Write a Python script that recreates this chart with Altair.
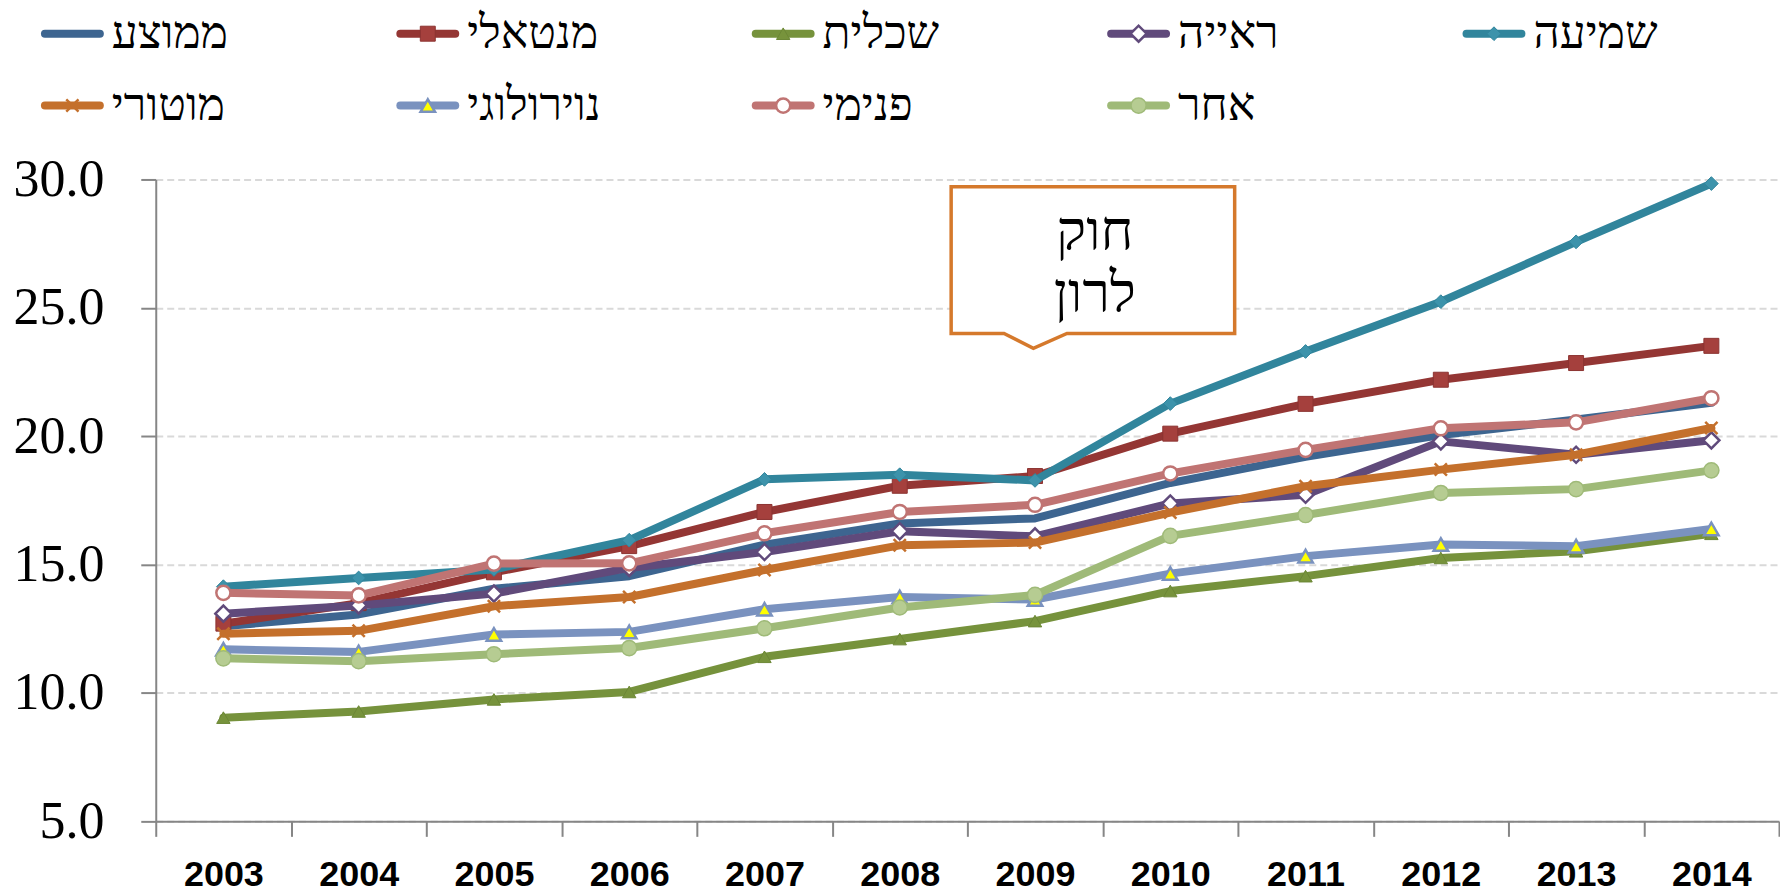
import altair as alt
import pandas as pd

# ---------------- data ----------------
years = list(range(2003, 2015))
series_names = ["ממוצע", "מנטאלי", "שכלית", "ראייה", "שמיעה",
                "מוטורי", "נוירולוגי", "פנימי", "אחר"]

avg_vals     = [12.60, 13.06, 14.06, 14.55, 15.78, 16.60, 16.80, 18.18, 19.20, 20.05, 20.65, 21.30]
mental_vals  = [12.70, 13.50, 14.70, 15.72, 17.05, 18.07, 18.45, 20.10, 21.26, 22.20, 22.85, 23.52]
intel_vals   = [9.04, 9.28, 9.75, 10.04, 11.41, 12.10, 12.80, 13.97, 14.55, 15.26, 15.52, 16.20]
vision_vals  = [13.09, 13.41, 13.87, 14.87, 15.49, 16.30, 16.10, 17.38, 17.72, 19.80, 19.28, 19.84]
hearing_vals = [14.14, 14.48, 14.81, 15.95, 18.32, 18.50, 18.28, 21.27, 23.30, 25.24, 27.57, 29.84]
motor_vals   = [12.31, 12.42, 13.38, 13.74, 14.79, 15.75, 15.86, 17.03, 18.05, 18.70, 19.28, 20.32]
neuro_vals   = [11.70, 11.60, 12.28, 12.38, 13.26, 13.74, 13.64, 14.65, 15.33, 15.78, 15.72, 16.39]
inner_vals   = [13.90, 13.80, 15.04, 15.05, 16.22, 17.05, 17.33, 18.55, 19.47, 20.31, 20.54, 21.48]
other_vals   = [11.35, 11.24, 11.51, 11.75, 12.52, 13.33, 13.82, 16.12, 16.93, 17.79, 17.94, 18.67]

all_values = [avg_vals, mental_vals, intel_vals, vision_vals, hearing_vals,
              motor_vals, neuro_vals, inner_vals, other_vals]

y_ticks = [5, 10, 15, 20, 25, 30]

callout_year = [2009]
callout_value = [26.57]
callout_text_value = [27.9]
callout_lines = ["חוק", "לרון"]

# ---------------- styles ----------------
line_colors = ["#3d6590", "#943634", "#76923c", "#604a7b", "#31859c",
               "#c4702c", "#7a92bf", "#c07473", "#9fba78"]
x_path = "M-1,-1L1,1M-1,1L1,-1"
marker_shapes = [None, "square", "triangle-up", "diamond", "diamond",
                 x_path, "triangle-up", "circle", "circle"]
marker_fills = ["#3d6590", "#a5403d", "#77933c", "#ffffff", "#3d93ab",
                "transparent", "#ffff00", "#ffffff", "#b6cc92"]
marker_strokes = ["#3d6590", "#8c3331", "#6b8735", "#604a7b", "#31859c",
                  "#c4702c", "#7a92bf", "#c07473", "#9fba78"]
marker_sizes = [0, 225, 180, 260, 190, 150, 210, 200, 230]
marker_sw = [1, 1, 1, 2.5, 1, 2.5, 2.5, 2.5, 1.5]

rows = []
for i, name in enumerate(series_names):
    for yr, v in zip(years, all_values[i]):
        rows.append({"series": name, "order": i, "year": yr, "value": v})
df = pd.DataFrame(rows)

legend_df = pd.DataFrame({
    "series": series_names,
    "col": [i % 5 for i in range(len(series_names))],
    "row": [i // 5 for i in range(len(series_names))],
})

callout_df = pd.DataFrame({"year": callout_year, "value": callout_value})
callout_text_df = pd.DataFrame({"year": callout_year, "value": callout_text_value})

PLOT_W = 1626
PLOT_H = 643

x_enc = alt.X(
    "year:O",
    bandPosition=0.5,
    scale=alt.Scale(type="band", paddingInner=0, paddingOuter=0),
    axis=alt.Axis(
        title=None, labelAngle=0, tickBand="extent", grid=False,
        domainColor="#868686", domainWidth=2, tickColor="#868686", tickWidth=2,
        tickSize=15, labelFont="Liberation Sans", labelFontWeight="bold",
        labelFontSize=36, labelColor="black", labelPadding=21,
    ),
)
y_enc = alt.Y(
    "value:Q",
    scale=alt.Scale(domain=[5, 30], nice=False, zero=False),
    axis=alt.Axis(
        title=None, values=y_ticks, format=".1f", tickSize=15, tickWidth=2,
        tickColor="#868686", domainColor="#868686", domainWidth=2,
        labelFont="Liberation Serif", labelFontSize=52, labelColor="black",
        labelPadding=37, gridColor="#d9d9d9", gridDash=[7, 4], gridWidth=2,
        minExtent=141,
    ),
)

base = alt.Chart(df)

layers = []
for i, name in enumerate(series_names):
    sub = base.transform_filter(alt.datum.series == name)
    layers.append(
        sub.mark_line(strokeWidth=8, strokeCap="round", strokeJoin="round",
                      color=line_colors[i]).encode(x=x_enc, y=y_enc)
    )
    if marker_shapes[i] is not None:
        layers.append(
            sub.mark_point(
                shape=marker_shapes[i], size=marker_sizes[i], filled=True,
                fill=marker_fills[i], stroke=marker_strokes[i],
                strokeWidth=marker_sw[i], opacity=1,
            ).encode(x=x_enc, y=y_enc)
        )

callout_path = ("M-1,-0.57L1,-0.57L1,0.465L-0.183,0.465L-0.42,0.57"
                "L-0.627,0.465L-1,0.465Z")
callout_box = alt.Chart(callout_df).mark_point(
    shape=callout_path, size=80656, filled=True, fill="white", stroke="#d5792c",
    strokeWidth=3.5, opacity=1, xOffset=58, strokeJoin="miter",
).encode(x=alt.X("year:O", bandPosition=0.5), y="value:Q")

callout_text = alt.Chart(callout_text_df).mark_text(
    text=callout_lines, font="Liberation Serif", fontSize=56, lineHeight=62,
    align="center", baseline="middle", color="black", xOffset=60,
).encode(x=alt.X("year:O", bandPosition=0.5), y="value:Q")

main = alt.layer(*layers, callout_box, callout_text).properties(
    width=PLOT_W, height=PLOT_H
)

# ---------------- legend (custom) ----------------
lx = alt.X("col:Q", scale=alt.Scale(domain=[0, 5], range=[-111, 1669]), axis=None)
ly = alt.Y("row:Q", scale=alt.Scale(domain=[0, 1], range=[22, 94]), axis=None)
lbase = alt.Chart(legend_df)
leg_layers = []
for i, name in enumerate(series_names):
    lsub = lbase.transform_filter(alt.datum.series == name)
    leg_layers.append(
        lsub.mark_rule(strokeWidth=8, strokeCap="round", x2Offset=55,
                       color=line_colors[i]).encode(x=lx, x2=alt.X2("col"), y=ly)
    )
    if marker_shapes[i] is not None:
        leg_layers.append(
            lsub.mark_point(
                shape=marker_shapes[i], size=marker_sizes[i], filled=True,
                fill=marker_fills[i], stroke=marker_strokes[i],
                strokeWidth=marker_sw[i], opacity=1, xOffset=27.5,
            ).encode(x=lx, y=ly)
        )
leg_text = lbase.mark_text(
    align="left", baseline="middle", xOffset=67, font="Liberation Serif",
    fontSize=46, color="black",
).encode(x=lx, y=ly, text="series:N")

legend_chart = alt.layer(*leg_layers, leg_text).properties(
    width=PLOT_W, height=120
)

chart = alt.vconcat(legend_chart, main, spacing=48, bounds="flush").properties(
    padding={"left": 5, "top": 2, "right": 0, "bottom": 0},
    background="white",
).configure_view(strokeWidth=0)

chart.save("out.html", embed_options={"renderer": "svg", "actions": False})
